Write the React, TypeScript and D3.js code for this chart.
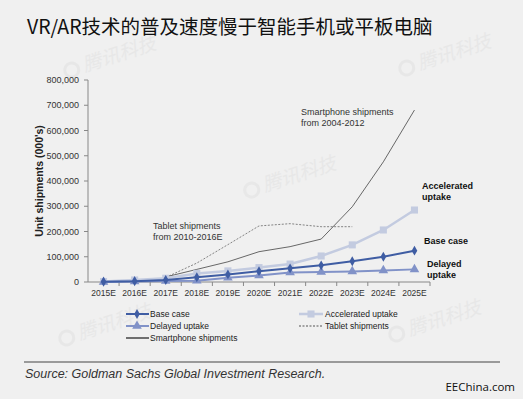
import React from "react";
import * as d3 from "d3";

const years = ["2015E", "2016E", "2017E", "2018E", "2019E", "2020E", "2021E", "2022E", "2023E", "2024E", "2025E"];
const baseCase = [1000, 3000, 8000, 19000, 30000, 43000, 54000, 66000, 82000, 100000, 124000];
const accelerated = [2000, 8000, 15000, 34000, 44000, 57000, 71000, 103000, 147000, 206000, 285000];
const delayed = [0, 2000, 4000, 5000, 17000, 26000, 38000, 40000, 42000, 46000, 50000];
// tablet 2010-2016E, drawn from 2017E
const tablet = [null, null, 18000, 75000, 148000, 222000, 231000, 219000, 219000, null, null];
// smartphone 2004-2012, drawn from 2017E
const smartphone = [null, null, 20000, 50000, 80000, 120000, 140000, 170000, 298000, 476000, 681000];
const yTicks = [0, 100000, 200000, 300000, 400000, 500000, 600000, 700000, 800000];

const W = 523;
const H = 399;
const font = "'Liberation Sans', Arial, sans-serif";

export default function App() {
  const x = d3.scaleBand().domain(years).range([88, 430]);
  const cx = (i: number) => (x(years[i]) as number) + x.bandwidth() / 2;
  const y = d3.scaleLinear().domain([0, 800000]).range([282, 80]);

  const line = d3
    .line<number | null>()
    .defined(d => d !== null)
    .x((d, i) => cx(i))
    .y(d => y(d as number));

  const fmt = d3.format(",");
  const diamond = d3.symbol().type(d3.symbolDiamond).size(28)();
  const square = d3.symbol().type(d3.symbolSquare).size(50)();
  const triangle = d3.symbol().type(d3.symbolTriangle).size(40)();

  const cBase = "#3f5da3";
  const cAcc = "#c3cbe0";
  const cDel = "#8192c8";

  //faint watermarks
  const marks = [
    [85, 72], [420, 70], [265, 192], [80, 340], [410, 336],
  ];

  return (
    <svg width={W} height={H} style={{ position: "absolute", left: 0, top: 0 }}>
      <rect width={W} height={H} fill="#f0f0f0" />
      {marks.map(([mx, my], i) => (
        <g key={i} transform={`translate(${mx},${my}) rotate(-18)`} opacity={0.5}>
          <circle cx={-12} cy={-6} r={7} fill="none" stroke="#e0e0e0" strokeWidth={3} />
          <text x={0} y={0} fontFamily="'Noto Sans CJK SC'" fontSize={19} fill="#e0e0e0" fontStyle="italic">
            腾讯科技
          </text>
        </g>
      ))}

      <text x={27} y={34} fontFamily="'Noto Sans CJK SC', sans-serif" fontSize={19.5} fill="#111">
        VR/AR技术的普及速度慢于智能手机或平板电脑
      </text>

      {/* axes */}
      <line x1={88} x2={88} y1={80} y2={282} stroke="#888" />
      <line x1={88} x2={430} y1={282} y2={282} stroke="#888" />
      {yTicks.map(t => (
        <g key={t}>
          <line x1={84} x2={88} y1={y(t)} y2={y(t)} stroke="#888" />
          <text x={79} y={y(t) + 3} textAnchor="end" fontFamily={font} fontSize={9} fill="#333">
            {fmt(t)}
          </text>
        </g>
      ))}
      {years.map((yr, i) => (
        <g key={yr}>
          <line x1={(x(yr) as number) + x.bandwidth()} x2={(x(yr) as number) + x.bandwidth()} y1={282} y2={286} stroke="#888" />
          <text x={cx(i)} y={296} textAnchor="middle" fontFamily={font} fontSize={8.5} fill="#333">
            {yr}
          </text>
        </g>
      ))}
      <text
        transform={`translate(43,181) rotate(-90)`}
        textAnchor="middle"
        fontFamily={font}
        fontSize={10.5}
        fontWeight="bold"
        fill="#222"
      >
        Unit shipments (000's)
      </text>

      {/* comparison lines */}
      <path d={line(tablet) || ""} fill="none" stroke="#666" strokeWidth={0.8} strokeDasharray="2,1.5" />
      <path d={line(smartphone) || ""} fill="none" stroke="#444" strokeWidth={0.8} />

      {/* scenarios */}
      <path d={line(accelerated) || ""} fill="none" stroke={cAcc} strokeWidth={2.5} />
      {accelerated.map((v, i) => (
        <path key={i} d={square || ""} transform={`translate(${cx(i)},${y(v)})`} fill={cAcc} />
      ))}
      <path d={line(delayed) || ""} fill="none" stroke={cDel} strokeWidth={2} />
      {delayed.map((v, i) => (
        <path key={i} d={triangle || ""} transform={`translate(${cx(i)},${y(v)})`} fill={cDel} />
      ))}
      <path d={line(baseCase) || ""} fill="none" stroke={cBase} strokeWidth={2} />
      {baseCase.map((v, i) => (
        <path key={i} d={diamond || ""} transform={`translate(${cx(i)},${y(v)})`} fill={cBase} />
      ))}

      {/* annotations */}
      <g fontFamily={font} fontSize={9} fill="#333">
        <text x={301} y={115}>Smartphone shipments</text>
        <text x={301} y={126}>from 2004-2012</text>
        <text x={153} y={229}>Tablet shipments</text>
        <text x={153} y={240}>from 2010-2016E</text>
      </g>
      <g fontFamily={font} fontSize={9} fontWeight="bold" fill="#111">
        <text x={422} y={189}>Accelerated</text>
        <text x={422} y={200}>uptake</text>
        <text x={424} y={244}>Base case</text>
        <text x={427} y={267}>Delayed</text>
        <text x={427} y={278}>uptake</text>
      </g>

      {/* legend */}
      <g fontFamily={font} fontSize={8.5} fill="#222">
        <line x1={126} x2={149} y1={314} y2={314} stroke={cBase} strokeWidth={2} />
        <path d={diamond || ""} transform="translate(137,314)" fill={cBase} />
        <text x={150} y={317}>Base case</text>
        <line x1={126} x2={149} y1={326} y2={326} stroke={cDel} strokeWidth={2} />
        <path d={triangle || ""} transform="translate(137,326)" fill={cDel} />
        <text x={150} y={329}>Delayed uptake</text>
        <line x1={126} x2={149} y1={338} y2={338} stroke="#444" strokeWidth={1.5} />
        <text x={150} y={341}>Smartphone shipments</text>

        <line x1={299} x2={323} y1={314} y2={314} stroke={cAcc} strokeWidth={2.5} />
        <path d={square || ""} transform="translate(311,314)" fill={cAcc} />
        <text x={325} y={317}>Accelerated uptake</text>
        <line x1={299} x2={323} y1={326} y2={326} stroke="#555" strokeWidth={1} strokeDasharray="2,1.5" />
        <text x={325} y={329}>Tablet shipments</text>
      </g>

      <line x1={24} x2={500} y1={362} y2={362} stroke="#444" strokeWidth={1} />
      <text x={25} y={378} fontFamily={font} fontSize={12.5} fontStyle="italic" fill="#333">
        Source: Goldman Sachs Global Investment Research.
      </text>
      <text x={515} y={391} textAnchor="end" fontFamily="'Open Sans', sans-serif" fontSize={11.5} fill="#111">
        EEChina.com
      </text>
    </svg>
  );
}
